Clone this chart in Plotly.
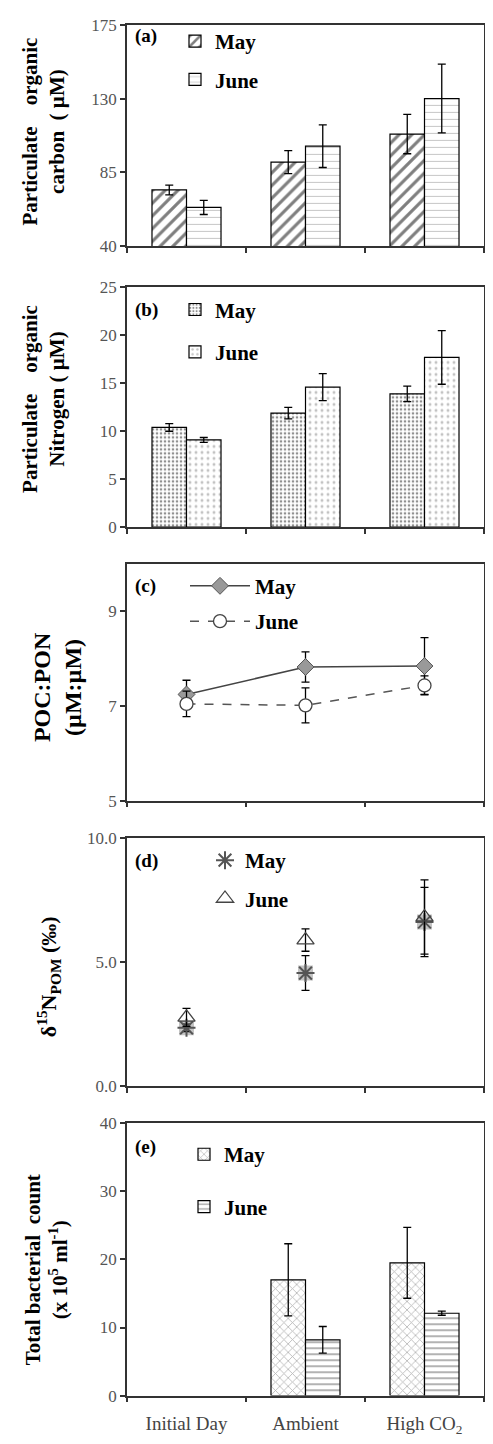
import plotly.graph_objects as go

W, H = 493, 1444
OFF = 8  # page body margin of the html page

categories = ["Initial Day", "Ambient", "High CO<sub>2</sub>"]

poc_may = [74.2, 91.2, 108.3]
poc_may_err = [3.0, 7.0, 12.0]
poc_june = [63.5, 100.9, 130.0]
poc_june_err = [4.3, 13.0, 21.0]

pon_may = [10.4, 11.9, 13.9]
pon_may_err = [0.4, 0.6, 0.8]
pon_june = [9.1, 14.6, 17.7]
pon_june_err = [0.25, 1.4, 2.8]

ratio_may = [7.24, 7.82, 7.84]
ratio_may_err = [0.3, 0.32, 0.6]
ratio_june = [7.04, 7.01, 7.43]
ratio_june_err = [0.27, 0.37, 0.2]

d15n_may = [2.34, 4.55, 6.61]
d15n_may_err = [0.15, 0.7, 1.4]
d15n_june = [2.76, 5.88, 6.81]
d15n_june_err = [0.36, 0.45, 1.5]

tbc_may = [None, 17.0, 19.5]
tbc_may_err = [0, 5.3, 5.2]
tbc_june = [None, 8.2, 12.1]
tbc_june_err = [0, 1.95, 0.3]

SERIF = "Liberation Serif"
AXC = "#333333"

# panel pixel extents (top, bottom) in screen coordinates
panels = [(16, 240), (282, 525), (562, 802), (840, 1091), (1129, 1405)]


def px_x(x):
    return (x - OFF) / W


def px_y(y):
    return 1 - (y - OFF) / H


xdom = [px_x(127), px_x(484)]


def err(arr, thick=1.3, width=4):
    return dict(type="data", array=arr, visible=True, color="black", thickness=thick, width=width)


fig = go.Figure()

# (a)
fig.add_trace(go.Bar(x=categories, y=poc_may, name="May", error_y=err(poc_may_err),
                     marker=dict(color="white", line=dict(color="black", width=1.2),
                                 pattern=dict(shape="/", fgcolor="black", size=9, solidity=0.35)),
                     xaxis="x", yaxis="y", legend="legend", legendgroup="a1"))
fig.add_trace(go.Bar(x=categories, y=poc_june, name="June", error_y=err(poc_june_err),
                     marker=dict(color="white", line=dict(color="black", width=1.2),
                                 pattern=dict(shape="-", fgcolor="#777777", size=7, solidity=0.12)),
                     xaxis="x", yaxis="y", legend="legend", legendgroup="a2"))
# (b)
fig.add_trace(go.Bar(x=categories, y=pon_may, name="May", error_y=err(pon_may_err),
                     marker=dict(color="white", line=dict(color="black", width=1.2),
                                 pattern=dict(shape=".", fgcolor="#222222", size=4, solidity=0.35)),
                     xaxis="x2", yaxis="y2", legend="legend2", legendgroup="b1"))
fig.add_trace(go.Bar(x=categories, y=pon_june, name="June", error_y=err(pon_june_err),
                     marker=dict(color="white", line=dict(color="black", width=1.2),
                                 pattern=dict(shape=".", fgcolor="#888888", size=6, solidity=0.2)),
                     xaxis="x2", yaxis="y2", legend="legend2", legendgroup="b2"))
# (c)
fig.add_trace(go.Scatter(x=categories, y=ratio_may, name="May", mode="lines+markers",
                         error_y=err(ratio_may_err),
                         line=dict(color="#444444", width=1.5),
                         marker=dict(symbol="diamond", size=13, color="#999999",
                                     line=dict(color="#555555", width=1)),
                         xaxis="x3", yaxis="y3", legend="legend3", legendgroup="c1"))
fig.add_trace(go.Scatter(x=categories, y=ratio_june, name="June", mode="lines+markers",
                         error_y=err(ratio_june_err),
                         line=dict(color="#555555", width=1.5, dash="dash"),
                         marker=dict(symbol="circle", size=13, color="white",
                                     line=dict(color="#444444", width=1.3)),
                         xaxis="x3", yaxis="y3", legend="legend3", legendgroup="c2"))
# (d)
fig.add_trace(go.Scatter(x=categories, y=d15n_may, mode="markers", showlegend=False,
                         marker=dict(symbol="square", size=15, color="#c4c4c4"),
                         xaxis="x4", yaxis="y4", hoverinfo="skip"))
fig.add_trace(go.Scatter(x=categories, y=d15n_may, name="May", mode="markers",
                         error_y=err(d15n_may_err),
                         marker=dict(symbol="asterisk-open", size=15, color="#555555",
                                     line=dict(color="#555555", width=2)),
                         xaxis="x4", yaxis="y4", legend="legend4", legendgroup="d1"))
fig.add_trace(go.Scatter(x=categories, y=d15n_june, name="June", mode="markers",
                         error_y=err(d15n_june_err),
                         marker=dict(symbol="triangle-up-open", size=15, color="#444444",
                                     line=dict(color="#444444", width=1.3)),
                         xaxis="x4", yaxis="y4", legend="legend4", legendgroup="d2"))
# (e)
fig.add_trace(go.Bar(x=categories, y=tbc_may, name="May", error_y=err(tbc_may_err),
                     marker=dict(color="white", line=dict(color="black", width=1.2),
                                 pattern=dict(shape="x", fgcolor="#666666", size=6, solidity=0.25)),
                     xaxis="x5", yaxis="y5", legend="legend5", legendgroup="e1"))
fig.add_trace(go.Bar(x=categories, y=tbc_june, name="June", error_y=err(tbc_june_err),
                     marker=dict(color="white", line=dict(color="black", width=1.2),
                                 pattern=dict(shape="-", fgcolor="#333333", size=6, solidity=0.25)),
                     xaxis="x5", yaxis="y5", legend="legend5", legendgroup="e2"))

yranges = [[40, 175], [0, 25], [5, 10], [0, 10], [0, 40]]
yticks = [[40, 85, 130, 175], [0, 5, 10, 15, 20, 25], [5, 7, 9], [0, 5, 10], [0, 10, 20, 30, 40]]
yfmt = ["", "", "", ".1f", ""]

layout = dict(width=W, height=H, margin=dict(l=0, r=0, t=0, b=0),
              paper_bgcolor="white", plot_bgcolor="white",
              barmode="group", bargap=0.42, bargroupgap=0.0,
              font=dict(family=SERIF, color="black"))

for i, (t, b) in enumerate(panels):
    sfx = "" if i == 0 else str(i + 1)
    layout["xaxis" + sfx] = dict(
        domain=xdom, anchor="y" + sfx, type="category", categoryorder="array",
        categoryarray=categories, range=[-0.5, 2.5], showline=True, mirror=True,
        linecolor=AXC, linewidth=1.5, ticks="outside", tickson="boundaries",
        ticklen=5, tickcolor=AXC, tickwidth=1.5, showgrid=False,
        showticklabels=(i == 4), ticklabelstandoff=10,
        tickfont=dict(family=SERIF, size=19, color="#444444"))
    layout["yaxis" + sfx] = dict(
        domain=[px_y(b), px_y(t)], anchor="x" + sfx, range=yranges[i], tickvals=yticks[i],
        tickformat=yfmt[i], showline=True, mirror=True, linecolor=AXC, linewidth=1.5,
        ticks="outside", ticklen=5, tickcolor=AXC, tickwidth=1.5, showgrid=False,
        zeroline=False, tickfont=dict(family=SERIF, size=17, color="#555555"))

legfont = dict(family=SERIF, size=21, color="black", weight="bold")
# (paper-x px, top offset from panel top, group gap, item width)
leg_pos = [(167, -4, 8, 30), (167, 2, 12, 30), (177, 2, 5, 60), (197, 2, 8, 30), (176, 11, 22, 30)]
for i, (lx, dy, gap, iw) in enumerate(leg_pos):
    key = "legend" if i == 0 else "legend" + str(i + 1)
    layout[key] = dict(x=lx / W, y=px_y(panels[i][0] + dy), xanchor="left", yanchor="top",
                       xref="paper", yref="paper", bgcolor="rgba(0,0,0,0)",
                       font=legfont, tracegroupgap=gap, itemwidth=iw)

labels = ["(a)", "(b)", "(c)", "(d)", "(e)"]
label_dy = [11, 23, 23, 23, 24]
annotations = []
for i, (t, b) in enumerate(panels):
    annotations.append(dict(text="<b>" + labels[i] + "</b>", x=px_x(133), y=px_y(t + label_dy[i]),
                            xref="paper", yref="paper", xanchor="left", yanchor="middle",
                            showarrow=False, font=dict(family=SERIF, size=19, color="black")))

NB = "\u00a0"
ytitles = [
    ("Particulate" + NB * 4 + "organic<br>carbon" + NB * 2 + "(" + NB + "µM)", 43, 124, 21),
    ("Particulate" + NB * 4 + "organic<br>Nitrogen" + NB + "(" + NB + "µM)", 44, 395, 21),
    ("POC:PON<br>(µM:µM)", 57, 687, 24),
    ("δ<sup>15</sup>N<sub>POM</sub> (‰)", 48, 981, 22),
    ("Total" + NB + "bacterial" + NB * 2 + "count<br>(x 10<sup>5</sup> ml<sup>-1</sup>)", 46, 1278, 21),
]
for txt, px, py, fs in ytitles:
    annotations.append(dict(text="<b>" + txt + "</b>", x=px_x(px), y=px_y(py),
                            xref="paper", yref="paper", xanchor="center", yanchor="middle",
                            textangle=-90, showarrow=False,
                            font=dict(family=SERIF, size=fs, color="black")))
layout["annotations"] = annotations

fig.update_layout(**layout)
fig.write_html("out.html")
